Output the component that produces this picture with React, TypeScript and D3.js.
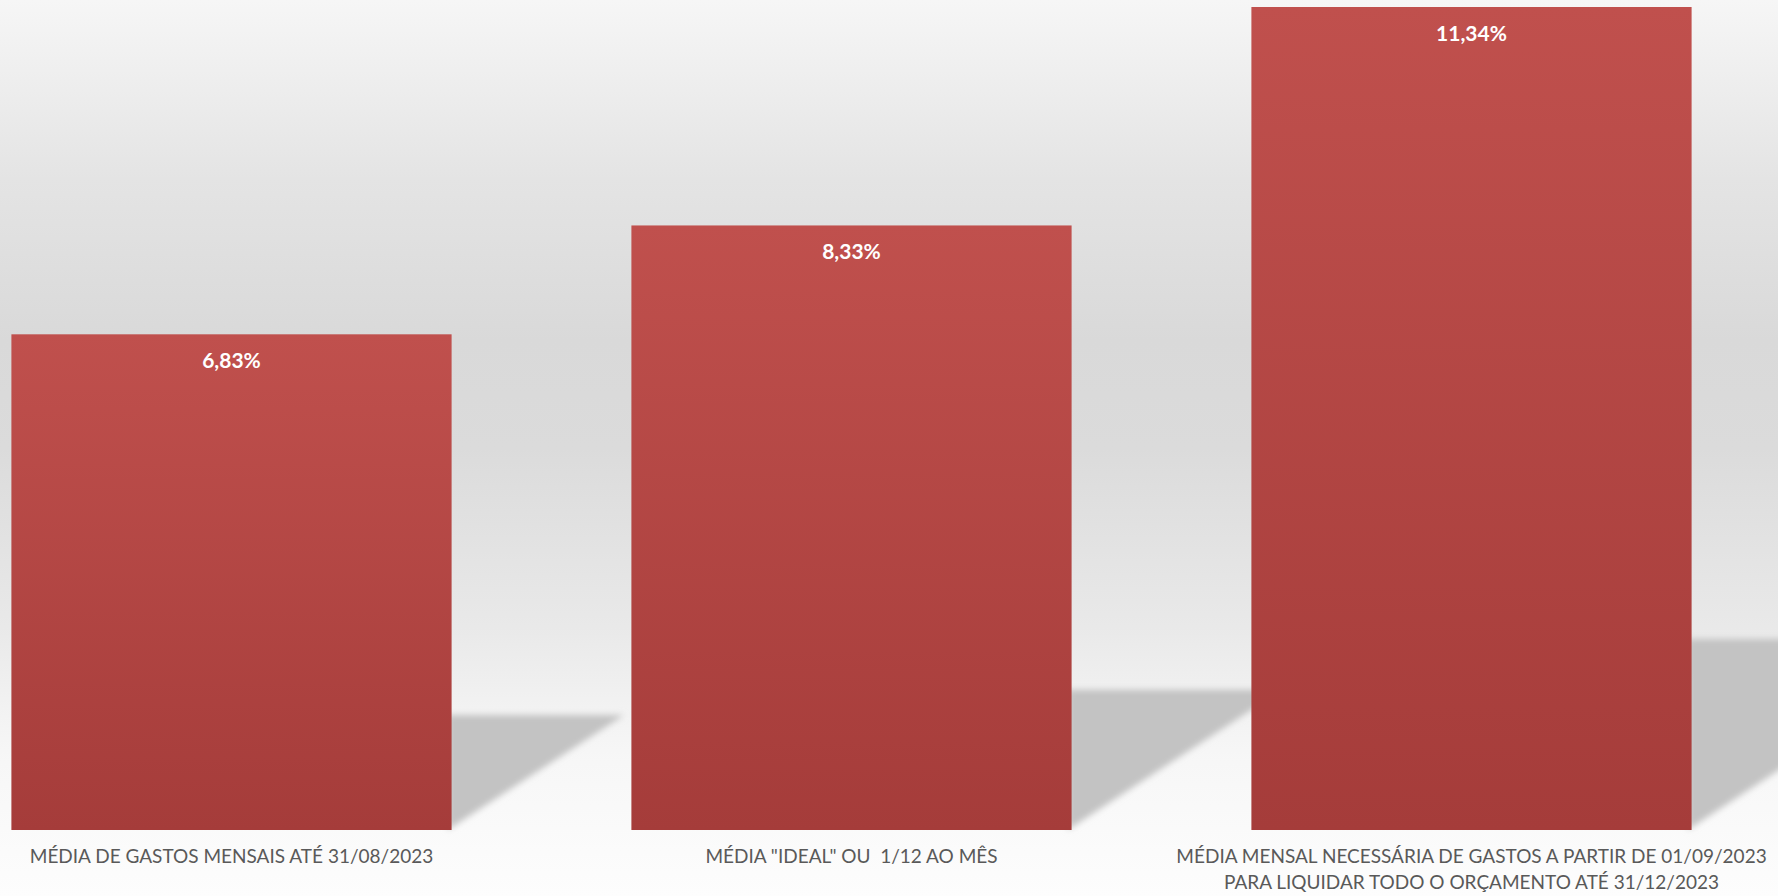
import React from "react";
import * as d3 from "d3";

const categories = [
  ["MÉDIA DE GASTOS MENSAIS ATÉ 31/08/2023"],
  ["MÉDIA \"IDEAL\" OU  1/12 AO MÊS"],
  ["MÉDIA MENSAL NECESSÁRIA DE GASTOS A PARTIR DE 01/09/2023", "PARA LIQUIDAR TODO O ORÇAMENTO ATÉ 31/12/2023"],
];
const values = [6.83, 8.33, 11.34];
const valueLabels = ["6,83%", "8,33%", "11,34%"];

const W = 1778;
const H = 896;

export default function App() {
  const ids = categories.map((_, i) => String(i));
  const x = d3.scaleBand<string>().domain(ids).range([-78.5, 1781.5]).paddingInner(0.29).paddingOuter(0.145);
  const y = d3.scaleLinear().domain([0, 11.34]).range([830, 7]);
  const bw = x.bandwidth();
  return (
    <svg width={W} height={H} style={{ position: "absolute", left: 0, top: 0 }}>
      <defs>
        <linearGradient id="bg" x1="0" y1="0" x2="0" y2="1">
          <stop offset="0" stopColor="#f6f6f6" />
          <stop offset="0.2" stopColor="#e4e4e4" />
          <stop offset="0.38" stopColor="#d9d9d9" />
          <stop offset="0.5" stopColor="#dbdbdb" />
          <stop offset="0.7" stopColor="#e9e9e9" />
          <stop offset="0.8" stopColor="#f3f3f3" />
          <stop offset="0.85" stopColor="#f7f7f7" />
          <stop offset="1" stopColor="#fdfdfd" />
        </linearGradient>
        <linearGradient id="bar" x1="0" y1="0" x2="0" y2="1">
          <stop offset="0" stopColor="#c0504d" />
          <stop offset="1" stopColor="#a53c3a" />
        </linearGradient>
        <filter id="blur" x="-20%" y="-20%" width="140%" height="140%">
          <feGaussianBlur stdDeviation="3" />
        </filter>
      </defs>
      <rect x={0} y={0} width={W} height={H} fill="url(#bg)" />
      {values.map((v, i) => {
        const left = x(ids[i])!;
        const right = left + bw;
        const bottom = y(0);
        const hBar = bottom - y(v);
        const sh = hBar * 0.232;
        const top = bottom - sh;
        const pts = [
          [right - 4, top],
          [right + sh * 1.5, top],
          [right - 4, bottom],
        ];
        return (
          <polygon
            key={"s" + i}
            points={pts.map((p) => p.join(",")).join(" ")}
            fill="#c3c3c3"
            filter="url(#blur)"
          />
        );
      })}
      {values.map((v, i) => (
        <rect
          key={"b" + i}
          x={x(ids[i])!}
          y={y(v)}
          width={bw}
          height={y(0) - y(v)}
          fill="url(#bar)"
        />
      ))}
      {values.map((v, i) => (
        <text
          key={"l" + i}
          x={x(ids[i])! + bw / 2}
          y={y(v) + 34}
          textAnchor="middle"
          fill="#ffffff"
          fontFamily="Lato, 'Open Sans', sans-serif"
          fontWeight="bold"
          fontSize={21}
        >
          {valueLabels[i]}
        </text>
      ))}
      {categories.map((lines, i) => (
        <text
          key={"c" + i}
          x={x(ids[i])! + bw / 2}
          textAnchor="middle"
          fill="#595959"
          fontFamily="Lato, 'Open Sans', sans-serif"
          fontSize={19}
        >
          {lines.map((t, j) => (
            <tspan key={j} x={x(ids[i])! + bw / 2} y={863 + j * 26} style={{ whiteSpace: "pre" }}>
              {t}
            </tspan>
          ))}
        </text>
      ))}
    </svg>
  );
}
